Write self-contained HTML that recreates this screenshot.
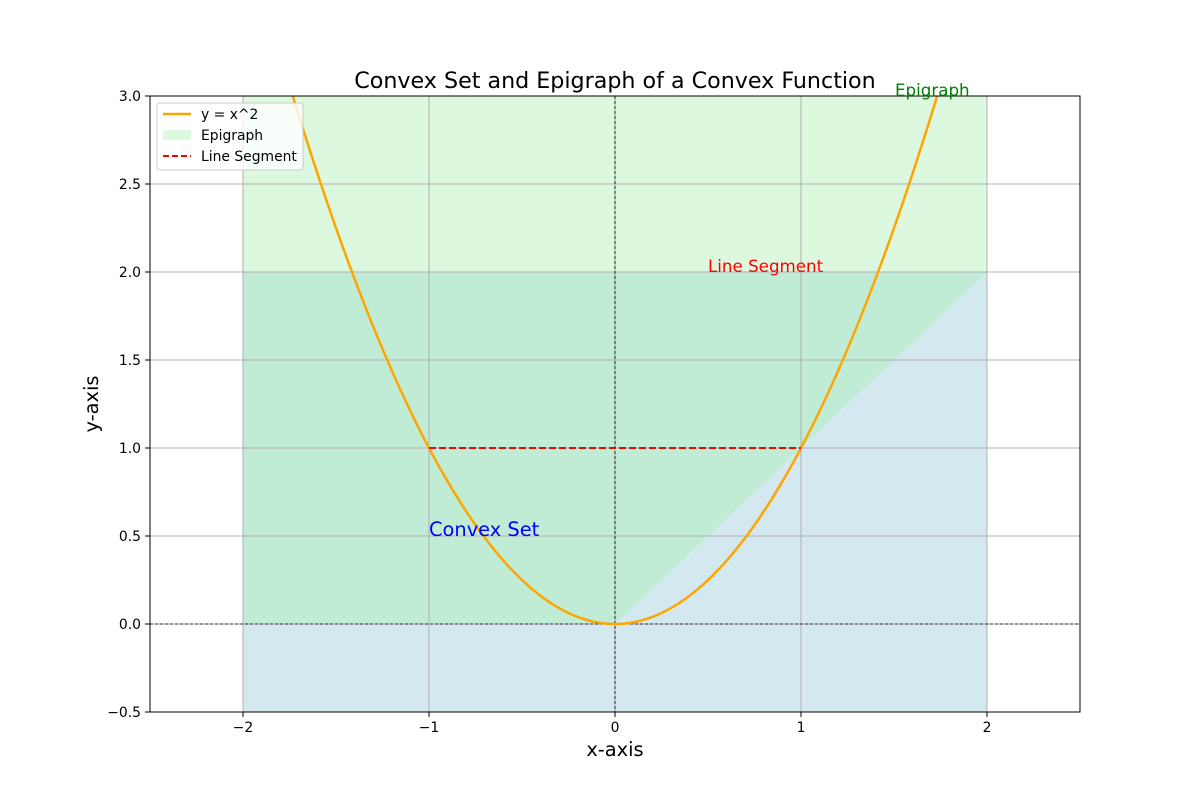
<!DOCTYPE html>
<html><head><meta charset="utf-8"><style>body{margin:0;background:#fff}svg{font-family:"DejaVu Sans","Liberation Sans",sans-serif}</style></head>
<body>
<svg id="c" width="1200" height="800"></svg>
<script>
const xTicks=[-2,-1,0,1,2];
const yTicks=[-0.5,0,0.5,1,1.5,2,2.5,3];
const segX=[-1,1];
const segY=[1,1];
const regionX=[-2,2];
const regionTop=3, blueTop=2, blueBottom=-0.5;
const X=v=>615+v*186, Y=v=>624-v*176;
const s=document.getElementById('c');
const NS='http://www.w3.org/2000/svg';
function mk(t,a,p){const e=document.createElementNS(NS,t);for(const k in a)e.setAttribute(k,a[k]);(p||s).appendChild(e);return e;}
const clip=mk('clipPath',{id:'cl'});mk('rect',{x:150,y:96,width:930,height:616},clip);
const g=mk('g',{'clip-path':'url(#cl)'});
let e;
e=mk('rect',{x:X(regionX[0]),y:Y(blueTop),width:X(regionX[1])-X(regionX[0]),height:Y(blueBottom)-Y(blueTop),fill:'#d4e9ef'},g);

e=mk('polygon',{points:`${X(-2)},${Y(0)} ${X(0)},${Y(0)} ${X(2)},${Y(2)} ${X(2)},${Y(regionTop)} ${X(-2)},${Y(regionTop)}`,fill:'#dcf8de'},g);

e=mk('polygon',{points:`${X(-2)},${Y(0)} ${X(0)},${Y(0)} ${X(2)},${Y(2)} ${X(-2)},${Y(2)}`,fill:'#c0ecd6'},g);

xTicks.forEach(v=>{mk('line',{x1:X(v),x2:X(v),y1:96,y2:712,stroke:'#b0b0b0','stroke-width':1},g);});
yTicks.forEach(v=>{mk('line',{x1:150,x2:1080,y1:Y(v),y2:Y(v),stroke:'#b0b0b0','stroke-width':1},g);});
mk('line',{x1:X(0),x2:X(0),y1:96,y2:712,stroke:'#000','stroke-width':0.8,'stroke-dasharray':'3,2'},g);
mk('line',{x1:150,x2:1080,y1:Y(0),y2:Y(0),stroke:'#000','stroke-width':0.8,'stroke-dasharray':'3,2'},g);
let d='';for(let i=0;i<=200;i++){const x=-2+4*i/200;d+=(i?'L':'M')+X(x)+','+Y(x*x);}
e=mk('path',{d,fill:'none',stroke:'#ffa500','stroke-width':2.5},g);

e=mk('line',{x1:X(segX[0]),y1:Y(segY[0]),x2:X(segX[1]),y2:Y(segY[1]),stroke:'red','stroke-width':2,'stroke-dasharray':'7,3'},g);

mk('rect',{x:150,y:96,width:930,height:616,fill:'none',stroke:'#000','stroke-width':1});
xTicks.forEach(v=>{mk('line',{x1:X(v),x2:X(v),y1:712,y2:717,stroke:'#000'});
 const t=mk('text',{x:X(v),y:732,'text-anchor':'middle','font-size':13.9});t.textContent=(v<0?'\u2212'+(-v):v);});
yTicks.forEach(v=>{mk('line',{x1:145,x2:150,y1:Y(v),y2:Y(v),stroke:'#000'});
 const t=mk('text',{x:141,y:Y(v)+5,'text-anchor':'end','font-size':13.9});t.textContent=(v<0?'\u2212'+(-v).toFixed(1):v.toFixed(1));});
function txt(x,y,str,o,name){const t=mk('text',Object.assign({x,y},o));t.textContent=str;return t;}
txt(615,88,'Convex Set and Epigraph of a Convex Function',{'text-anchor':'middle','font-size':22.2},'chart-title');
txt(615,756,'x-axis',{'text-anchor':'middle','font-size':19.4},'x-axis-title');
txt(98,404,'y-axis',{'text-anchor':'middle','font-size':19.4,transform:'rotate(-90 98 404)'},'y-axis-title');
txt(895,96,'Epigraph',{'font-size':16.7,fill:'green'},'epigraph-label');
txt(708,272,'Line Segment',{'font-size':16.7,fill:'red'},'line-segment-label');
txt(429,536,'Convex Set',{'font-size':19.4,fill:'blue'},'convex-set-label');
const lg=mk('g',{});
mk('rect',{x:157,y:103,width:146,height:67,rx:3,fill:'#fff','fill-opacity':0.8,stroke:'#ccc'},lg);
mk('line',{x1:163,x2:191,y1:114,y2:114,stroke:'#ffa500','stroke-width':2.5},lg);
mk('rect',{x:163,y:130,width:28,height:10,fill:'#dcf8de'},lg);
mk('line',{x1:163,x2:191,y1:156,y2:156,stroke:'red','stroke-width':2,'stroke-dasharray':'6,3'},lg);
[['y = x^2',119],['Epigraph',140],['Line Segment',161]].forEach(([s2,y])=>{const t=mk('text',{x:201,y,'font-size':13.9},lg);t.textContent=s2;});
</script>
</body></html>
